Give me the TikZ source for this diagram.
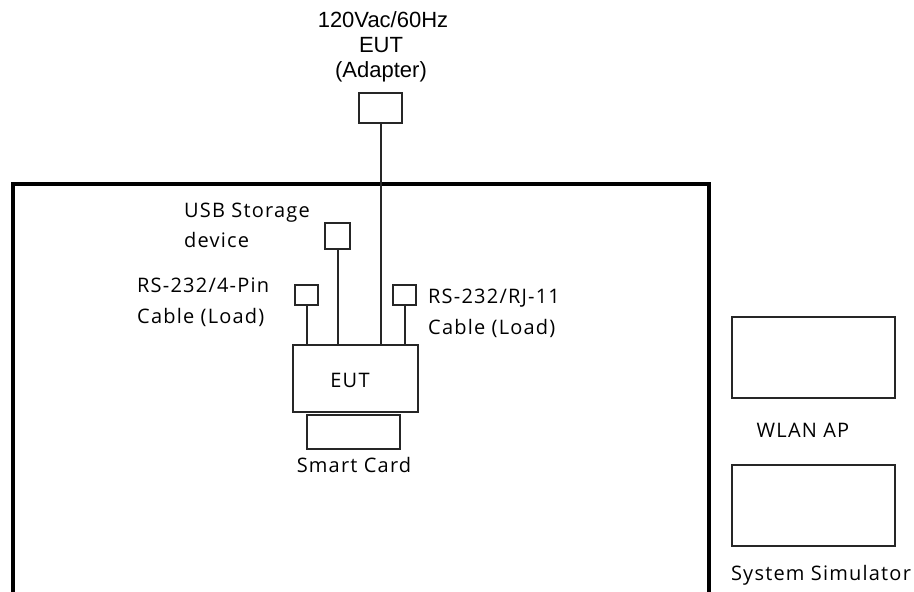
\documentclass[tikz,border=0pt]{standalone}
\usepackage{fontspec}
\setmainfont{Open Sans}
\newfontfamily\segoe[LetterSpace=6]{Open Sans}
\newfontfamily\arialf{Liberation Sans}
\begin{document}
\begin{tikzpicture}[x=1pt,y=-1pt,
  box/.style={draw=black!85,line width=2pt,inner sep=0pt,anchor=north west},
  wire/.style={draw=black!85,line width=2pt},
  lbl/.style={font=\segoe\fontsize{20}{30}\selectfont,inner sep=0pt,anchor=base west},
  clbl/.style={font=\segoe\fontsize{20}{30}\selectfont,inner sep=0pt,anchor=base},
  albl/.style={font=\arialf\fontsize{22}{25}\selectfont,inner sep=0pt,anchor=base}]
\useasboundingbox[fill=white] (0,0) rectangle (914,592);
% enclosure
\draw[line width=4pt,line cap=rect] (13,592) -- (13,184) -- (709,184) -- (709,592);
% adapter
\node[box,minimum width=43pt,minimum height=30pt] (adp) at (358,92) {};
\node[albl] (adpl1) at (383,27) {120Vac/60Hz};
\node[albl] (adpl2) at (381,52) {EUT};
\node[albl] (adpl3) at (381,77) {(Adapter)};
% EUT
\node[box,minimum width=125pt,minimum height=67pt] (eut) at (292,344) {};
\node[clbl] (eutl) at (350,387) {EUT};
% smart card
\node[box,minimum width=93pt,minimum height=34pt] (sc) at (306,414) {};
\node[clbl] (scl) at (354,472) {Smart Card};
% USB
\node[box,minimum width=25pt,minimum height=26pt] (usb) at (324,222) {};
\node[lbl] (usbl1) at (184,217) {USB Storage};
\node[lbl] (usbl2) at (184,247) {device};
% RS-232 4-pin
\node[box,minimum width=23pt,minimum height=20pt] (rs4) at (294,284) {};
\node[lbl] (rs4l1) at (137,292) {RS-232/4-Pin};
\node[lbl] (rs4l2) at (137,323) {Cable (Load)};
% RS-232 RJ-11
\node[box,minimum width=23pt,minimum height=20pt] (rj) at (392,284) {};
\node[lbl] (rjl1) at (428,303) {RS-232/RJ-11};
\node[lbl] (rjl2) at (428,334) {Cable (Load)};
% WLAN AP and System Simulator
\node[box,minimum width=163pt,minimum height=81pt] (ap) at (731,316) {};
\node[clbl] (apl) at (803,437) {WLAN AP};
\node[box,minimum width=163pt,minimum height=81pt] (ss) at (731,464) {};
\node[clbl] (ssl) at (821,580) {System Simulator};
% wires
\draw[wire] (adp.south) -- (adp.south |- eut.north);
\draw[wire] (usb.south) -- (usb.south |- eut.north);
\draw[wire] (rs4.south) -- (rs4.south |- eut.north);
\draw[wire] (rj.south) -- (rj.south |- eut.north);
\end{tikzpicture}
\end{document}
